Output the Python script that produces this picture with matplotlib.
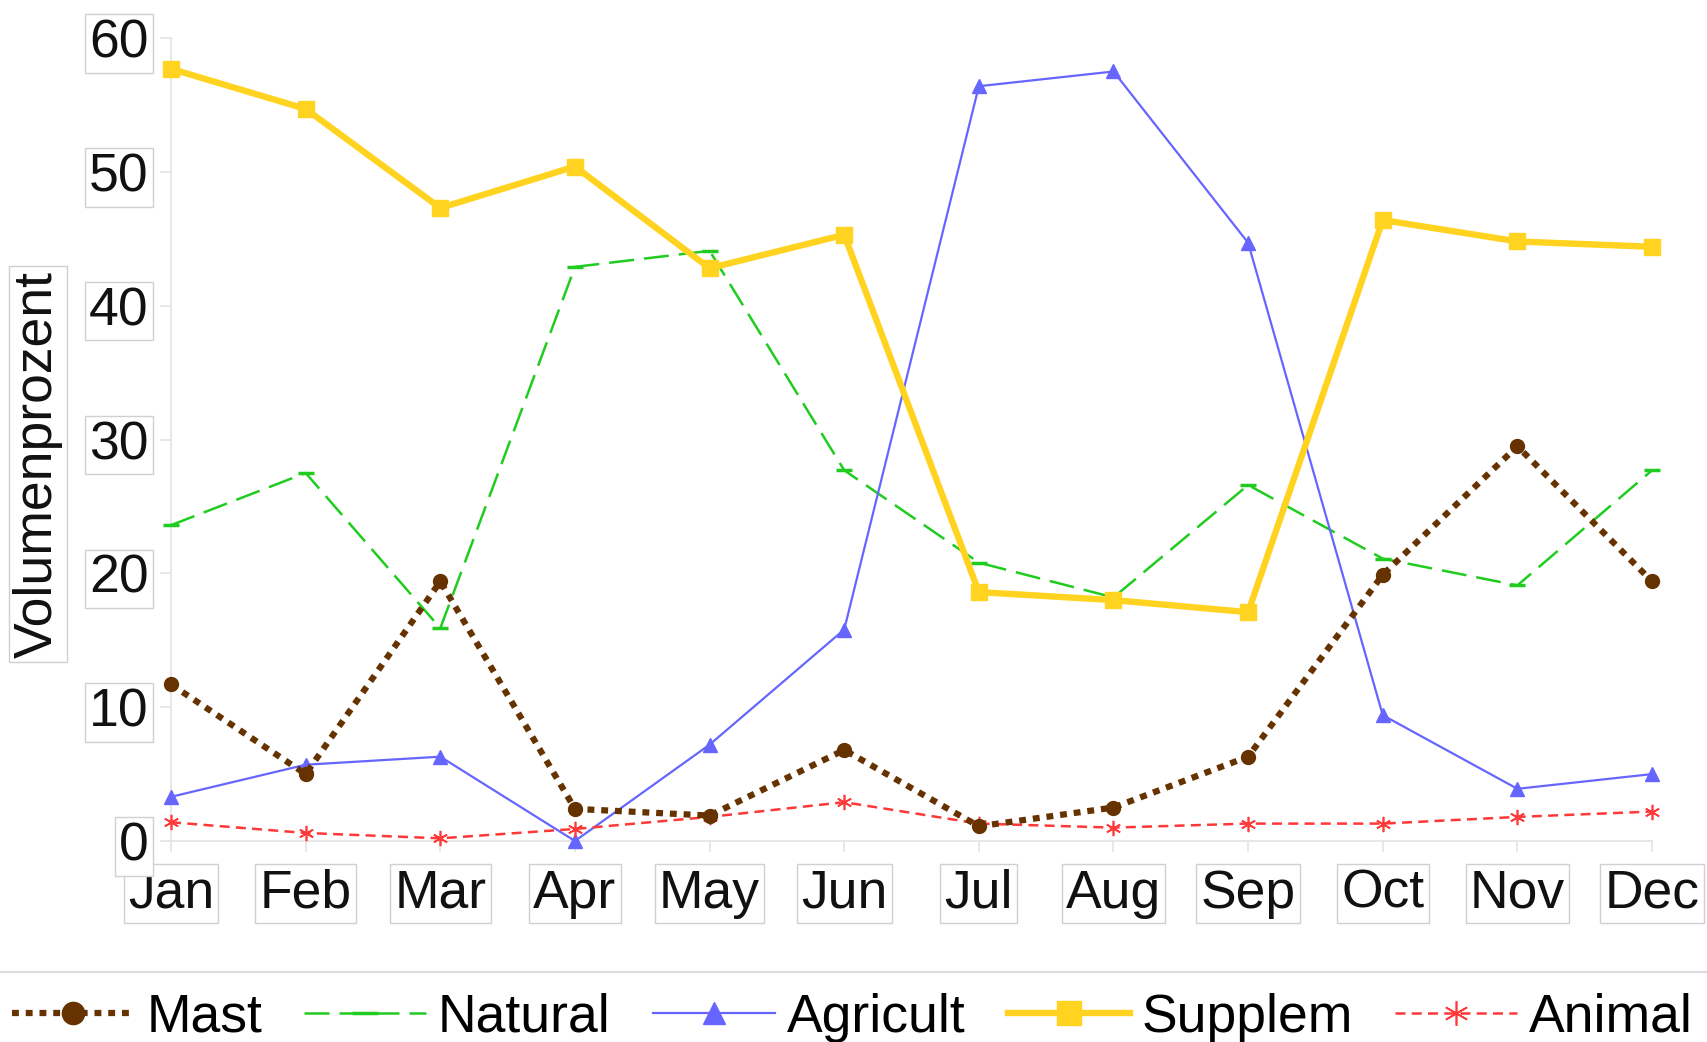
import matplotlib
matplotlib.use("Agg")
import matplotlib.pyplot as plt
from matplotlib.lines import Line2D

plt.rcParams['font.family'] = ['Liberation Sans', 'DejaVu Sans']

months = ['Jan', 'Feb', 'Mar', 'Apr', 'May', 'Jun', 'Jul', 'Aug', 'Sep', 'Oct', 'Nov', 'Dec']
mast = [11.7, 5.0, 19.4, 2.4, 1.9, 6.8, 1.1, 2.5, 6.3, 19.9, 29.5, 19.4]
natural = [23.6, 27.5, 15.9, 42.9, 44.1, 27.7, 20.8, 18.2, 26.6, 21.1, 19.1, 27.7]
agricult = [3.3, 5.7, 6.3, 0.0, 7.2, 15.8, 56.4, 57.5, 44.7, 9.4, 3.9, 5.0]
supplem = [57.7, 54.7, 47.3, 50.4, 42.8, 45.3, 18.6, 18.0, 17.1, 46.4, 44.8, 44.4]
animal = [1.4, 0.6, 0.2, 0.9, 1.8, 2.9, 1.3, 1.0, 1.3, 1.3, 1.8, 2.2]
yticks = [0, 10, 20, 30, 40, 50, 60]

FS = 38.5
GREY = '#e3e3e3'
BOX = dict(boxstyle='square,pad=0.08', fc='white', ec='#d0d0d0', lw=1.0)

fig = plt.figure(figsize=(17.07, 10.42), dpi=100)
ax = fig.add_axes([0.1002, 0.1929, 0.8676, 0.7706])
x = list(range(len(months)))

ax.plot(x, mast, color='#663300', lw=4.5, ls=(0, (1.1, 1.1)), marker='o', ms=10,
        clip_on=False, zorder=4, label='Mast')
ax.plot(x, natural, color='#1fcc1f', lw=1.8, ls=(0, (10, 4)), marker='_', ms=12, mew=2.5,
        clip_on=False, zorder=3, label='Natural')
ax.plot(x, agricult, color='#6666ff', lw=1.6, marker='^', ms=10,
        clip_on=False, zorder=3, label='Agricult')
ax.plot(x, supplem, color='#ffd320', lw=4.6, marker='s', ms=11,
        clip_on=False, zorder=5, label='Supplem')
ax.plot(x, animal, color='#ff3838', lw=1.8, ls=(0, (4, 2.5)), marker=(6, 2, 0), ms=11, mew=1.2,
        clip_on=False, zorder=3, label='Animal')

ax.set_xlim(0, 11)
ax.set_ylim(0, 60)
ax.set_xticks(x)
ax.set_xticklabels(months)
ax.set_yticks(yticks)
for s in ['top', 'right']:
    ax.spines[s].set_visible(False)
for s in ['left', 'bottom']:
    ax.spines[s].set_color(GREY)
    ax.spines[s].set_linewidth(1.2)
ax.tick_params(axis='both', colors=GREY, length=8, width=1.2, labelsize=FS, labelcolor='#111111')
ax.tick_params(axis='y', pad=8)
ax.tick_params(axis='x', pad=12)
for lbl in ax.get_xticklabels() + ax.get_yticklabels():
    lbl.set_bbox(BOX)

ax.set_ylabel('Volumenprozent', fontsize=FS, color='#111111', bbox=BOX)
ax.yaxis.label.set_va('center')
ax.yaxis.set_label_coords(-0.0898, 0.4695)

fig.add_artist(Line2D([0, 1], [1 - 972 / 1042] * 2, color='#dcdcdc', lw=1.5))
fig.legend(loc='center', bbox_to_anchor=(0.4994, 1 - 1018 / 1042), ncol=5, frameon=False,
           fontsize=FS, handlelength=2.28, handletextpad=0.22, columnspacing=0.79,
           markerscale=1.6, borderaxespad=0, borderpad=0)

fig.savefig('out.png', dpi=100, facecolor='white')
